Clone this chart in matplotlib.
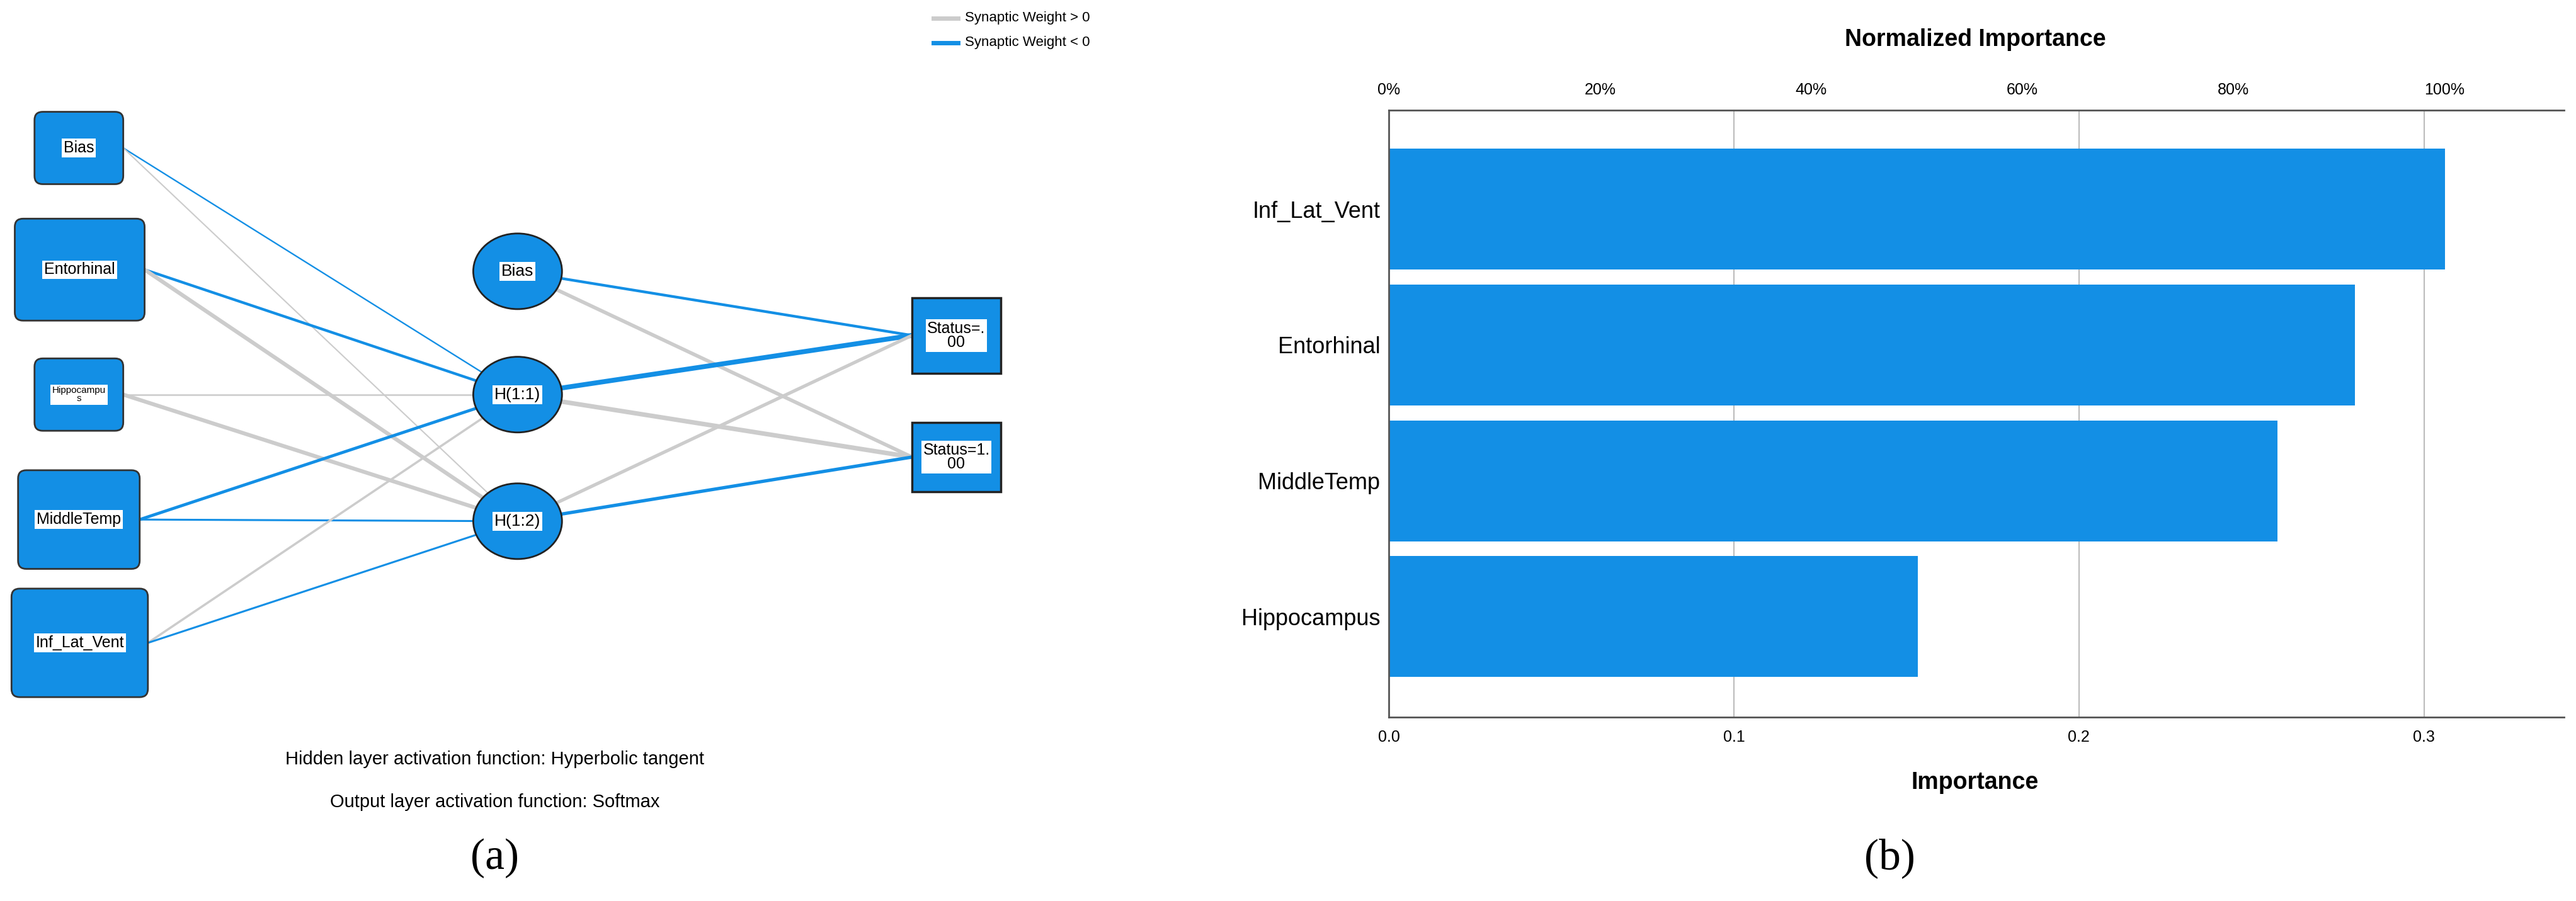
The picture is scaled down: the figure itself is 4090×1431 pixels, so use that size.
import matplotlib
matplotlib.use("Agg")
import matplotlib.pyplot as plt
from matplotlib.patches import FancyBboxPatch, Ellipse, Rectangle
from matplotlib.ticker import FuncFormatter

plt.rcParams['font.family'] = ['Liberation Sans', 'DejaVu Sans']

# ---- data: importance chart ----
features = ["Inf_Lat_Vent", "Entorhinal", "MiddleTemp", "Hippocampus"]
importance = [0.306, 0.280, 0.2576, 0.1533]
imp_ticks = [0.0, 0.1, 0.2, 0.3]
norm_ticks = [0, 20, 40, 60, 80, 100]

# ---- data: network diagram ----
input_nodes = ["Bias", "Entorhinal", "Hippocampu\ns", "MiddleTemp", "Inf_Lat_Vent"]
hidden_nodes = ["Bias", "H(1:1)", "H(1:2)"]
output_nodes = ["Status=.\n00", "Status=1.\n00"]
# weights input -> hidden (rows: inputs, cols: H(1:1), H(1:2)); sign = colour, size = width
w_in = [[-0.2, 0.15],
        [-0.6, 1.0],
        [0.25, 1.0],
        [-0.7, -0.35],
        [0.45, -0.35]]
# weights hidden -> output (rows: Bias, H(1:1), H(1:2); cols: outputs)
w_out = [[-0.6, 0.9],
         [-1.3, 1.2],
         [0.8, -0.8]]

# layout (reference pixel space 1568 x 548)
in_boxes = [(21, 68, 54, 44), (9, 133, 79, 62), (21, 218, 54, 44), (11, 286, 74, 60), (7, 358, 83, 66)]
hid_pos = [(315, 165), (315, 240), (315, 317)]
out_boxes = [(555, 181, 54, 46), (555, 257, 54, 42)]

BLUE = "#138fe5"
GRAY = "#cccccc"

fig = plt.figure(figsize=(40.91, 14.31), dpi=100)
ax = fig.add_axes([0, 0, 1, 1])
ax.set_xlim(0, 1568)
ax.set_ylim(548, 0)
ax.axis("off")

def center(b):
    return (b[0] + b[2] / 2, b[1] + b[3] / 2)

def draw_edge(p, q, w):
    col = BLUE if w < 0 else GRAY
    ax.plot([p[0], q[0]], [p[1], q[1]], color=col, lw=1.0 + 3.5 * abs(w),
            solid_capstyle="butt", zorder=1)

for i, b in enumerate(in_boxes):
    c = center(b)
    for j, h in enumerate(hid_pos[1:]):
        draw_edge((b[0] + b[2], c[1]), h, w_in[i][j])
for i, h in enumerate(hid_pos):
    for j, b in enumerate(out_boxes):
        draw_edge(h, (b[0], center(b)[1]), w_out[i][j])

for name, b in zip(input_nodes, in_boxes):
    ax.add_patch(FancyBboxPatch((b[0] + 3, b[1] + 3), b[2] - 6, b[3] - 6,
                                boxstyle="round,pad=3,rounding_size=5",
                                fc=BLUE, ec="#333333", lw=2, zorder=3))
    c = center(b)
    fs = 11 if "\n" in name else 18
    ax.text(c[0], c[1], name, ha="center", va="center", fontsize=fs, zorder=4,
            linespacing=0.9, bbox=dict(fc="white", ec="none", pad=2))

for name, (x, y) in zip(hidden_nodes, hid_pos):
    ax.add_patch(Ellipse((x, y), 54, 46, fc=BLUE, ec="#222222", lw=2, zorder=3))
    ax.text(x, y, name, ha="center", va="center", fontsize=19, zorder=4,
            bbox=dict(fc="white", ec="none", pad=2))

for name, b in zip(output_nodes, out_boxes):
    ax.add_patch(Rectangle((b[0], b[1]), b[2], b[3], fc=BLUE, ec="#222222", lw=2.5, zorder=3))
    c = center(b)
    ax.text(c[0], c[1], name, ha="center", va="center", fontsize=18, zorder=4,
            linespacing=0.9, bbox=dict(fc="white", ec="none", pad=2))

# legend
ax.plot([568, 583], [11, 11], color=GRAY, lw=5)
ax.plot([568, 583], [26, 26], color=BLUE, lw=5)
ax.text(587, 11, "Synaptic Weight > 0", va="center", fontsize=16)
ax.text(587, 26, "Synaptic Weight < 0", va="center", fontsize=16)

ax.text(301, 462, "Hidden layer activation function: Hyperbolic tangent", ha="center", va="center", fontsize=21)
ax.text(301, 488, "Output layer activation function: Softmax", ha="center", va="center", fontsize=21)
ax.text(301, 522, "(a)", ha="center", va="center", fontsize=50, family=["Liberation Serif", "DejaVu Serif"])
ax.text(1150, 522, "(b)", ha="center", va="center", fontsize=50, family=["Liberation Serif", "DejaVu Serif"])
ax.text(1202, 24, "Normalized Importance", ha="center", va="center", fontsize=27, fontweight="bold")
ax.text(1202, 476, "Importance", ha="center", va="center", fontsize=27, fontweight="bold")

# ---- bar chart ----
bx = fig.add_axes([0.539, 0.204, 0.456, 0.674])
ypos = list(range(len(features)))
bx.barh(ypos, importance, height=0.89, color=BLUE, zorder=2)
bx.set_xlim(0, 0.3405)
bx.set_ylim(3.74, -0.73)
bx.set_yticks(ypos)
bx.set_yticklabels(features, fontsize=26)
bx.set_xticks(imp_ticks)
bx.xaxis.set_major_formatter(FuncFormatter(lambda v, p: f"{v:.1f}"))
bx.tick_params(axis="x", labelsize=18, length=0, pad=14)
bx.tick_params(axis="y", length=0, pad=10)
bx.grid(axis="x", color="#bbbbbb", lw=1.5, zorder=0)
for s in ["left", "top", "bottom"]:
    bx.spines[s].set_color("#555555")
    bx.spines[s].set_linewidth(2)
bx.spines["right"].set_visible(False)
top = bx.twiny()
top.set_xlim(0, 0.3405 / max(importance) * 100)
top.set_xticks(norm_ticks)
top.set_xticklabels([f"{t}%" for t in norm_ticks])
top.tick_params(axis="x", labelsize=18, length=0, pad=14)
for s in top.spines.values():
    s.set_visible(False)

fig.savefig("out.png", dpi=100)
